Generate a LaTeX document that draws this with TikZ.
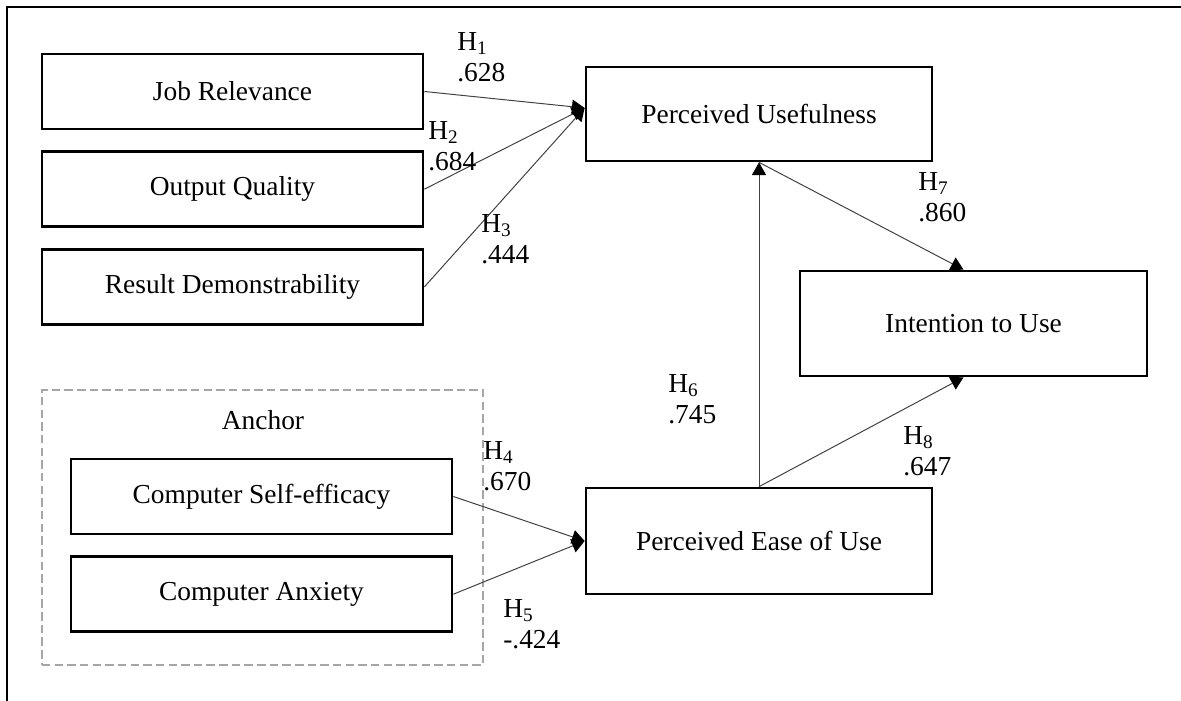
\documentclass[tikz,border=0pt]{standalone}
\usepackage{fontspec}
\setmainfont{Liberation Serif}
\usetikzlibrary{arrows.meta,positioning}

\begin{document}
\begin{tikzpicture}[
    x=0.025cm, y=-0.025cm,
    node distance=0.5cm,
    box/.style={rectangle, draw, line width=1.9pt, minimum width=9.525cm, minimum height=1.875cm, align=center, font=\fontsize{19.5}{23}\selectfont},
    effect/.style={draw=black!75, line width=0.7pt, -{Triangle[length=9pt,width=10pt,color=black]}},
    coef/.style={anchor=west, align=left, inner sep=0pt, font=\fontsize{19.5}{22}\selectfont}
]
\useasboundingbox (0,0) rectangle (1181,701);

% Frame
\draw[line width=1.9pt] (1181,7) -- (7,7) -- (7,701);

% External variables
\node[box] (jr) at (232.5,91.5) {Job Relevance};
\node[box, below=of jr] (oq) {Output Quality};
\node[box, below=of oq] (rd) {Result Demonstrability};

% Anchor group
\node[draw=black!35, dashed, dash pattern=on 6pt off 3pt, line width=1.4pt, minimum width=11.025cm, minimum height=6.875cm] (anchorbox) at (262.5,527.5) {};
\node[font=\fontsize{19.5}{23}\selectfont] (anchor) at (263,420) {Anchor};
\node[box] (cse) at (261.5,496.5) {Computer Self-efficacy};
\node[box, below=of cse] (ca) {Computer Anxiety};

% TAM core
\node[box, minimum width=8.65cm, minimum height=2.35cm] (pu) at (759,114) {Perceived Usefulness};
\node[box, minimum width=8.65cm, minimum height=2.65cm] (peou) at (759,541) {Perceived Ease of Use};
\node[box, minimum width=8.675cm, minimum height=2.625cm] (itu) at (973.5,323.5) {Intention to Use};

% Paths
\draw[effect] (jr.east) -- ([yshift=0.15cm]pu.west);
\draw[effect] (oq.east) -- ([yshift=0.15cm]pu.west);
\draw[effect] (rd.east) -- ([yshift=0.15cm]pu.west);
\draw[effect] (cse.east) -- (peou.west);
\draw[effect] (ca.east) -- (peou.west);
\draw[effect] (peou.north) -- (pu.south);
\draw[effect] (pu.south) -- ([xshift=-0.25cm]itu.north);
\draw[effect] (peou.north) -- ([xshift=-0.25cm]itu.south);

% Coefficients
\node[coef] (h1) at (457,57) {H\textsubscript{1}\\.628};
\node[coef] (h2) at (428,146) {H\textsubscript{2}\\.684};
\node[coef] (h3) at (481,239) {H\textsubscript{3}\\.444};
\node[coef] (h4) at (483,466) {H\textsubscript{4}\\.670};
\node[coef] (h5) at (503,624) {H\textsubscript{5}\\-.424};
\node[coef] (h6) at (668,399) {H\textsubscript{6}\\.745};
\node[coef] (h7) at (918,197) {H\textsubscript{7}\\.860};
\node[coef] (h8) at (903,451) {H\textsubscript{8}\\.647};

\end{tikzpicture}
\end{document}
